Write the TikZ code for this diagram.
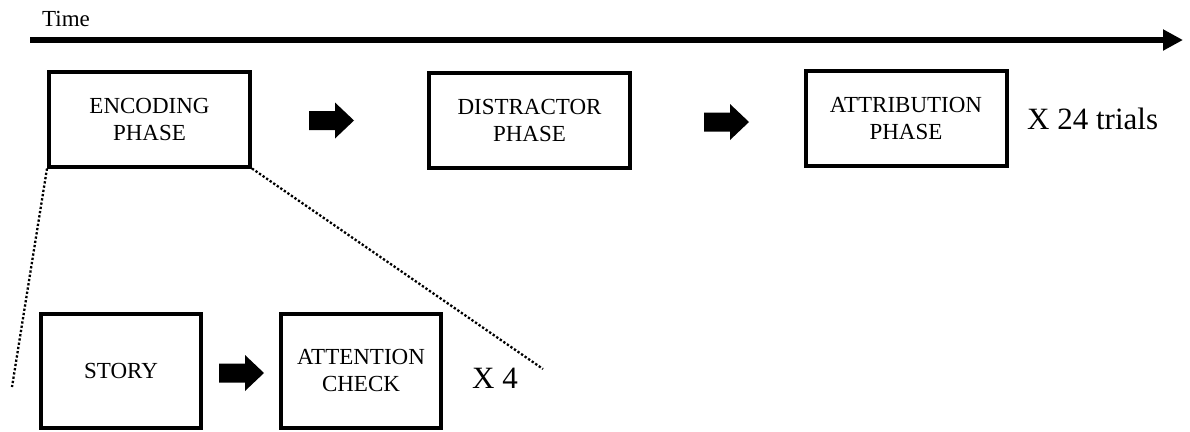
\documentclass[tikz,border=0pt]{standalone}
\usepackage{fontspec}
\setmainfont{Liberation Serif}
\usetikzlibrary{arrows.meta}
\begin{document}
\begin{tikzpicture}[x=1pt,y=-1pt,
  phase/.style={draw, line width=4pt, minimum width=201pt, minimum height=95pt,
    align=center, inner sep=0pt, font=\fontsize{23}{27}\selectfont},
  subphase/.style={phase, minimum width=160pt, minimum height=113.5pt},
  repeats/.style={anchor=base west, inner sep=0pt, font=\fontsize{31}{36}\selectfont},
  zoomline/.style={line width=2.3pt, dash pattern=on 2.3pt off 2pt},
  blockarrow/.pic={\fill (0,-9.5) -- (26,-9.5) -- (26,-18) -- (45,0) -- (26,18)
    -- (26,9.5) -- (0,9.5) -- cycle;}
]
\useasboundingbox (0,0) rectangle (1190,431);

% time axis
\node[anchor=base west, inner sep=0pt, font=\fontsize{23}{27}\selectfont] (timelbl) at (42,26) {Time};
\coordinate (t0) at (30,40);
\coordinate (t1) at (1183,40);
\draw[line width=5.5pt, -{Triangle[length=20pt,width=20pt]}] (t0) -- (t1);

% one trial
\node[phase] (enc) at (149.5,119) {ENCODING\\PHASE};
\node[phase] (dis) at (529.5,120) {DISTRACTOR\\PHASE};
\node[phase] (att) at (906,118) {ATTRIBUTION\\PHASE};
\pic at (309,120.5) {blockarrow};
\pic at (704,122) {blockarrow};
\node[repeats] (trials) at (1027,129) {X 24 trials};

% expanded encoding phase
\node[subphase] (story) at (121,370.75) {STORY};
\node[subphase] (check) at (361,370.75) {ATTENTION\\CHECK};
\pic at (219,373) {blockarrow};
\node[repeats] (four) at (472,388) {X 4};

\coordinate (zl) at (12,387);
\coordinate (zr) at (543,369);
\draw[zoomline] (enc.south west) -- (zl);
\draw[zoomline] (enc.south east) -- (zr);
\end{tikzpicture}
\end{document}
